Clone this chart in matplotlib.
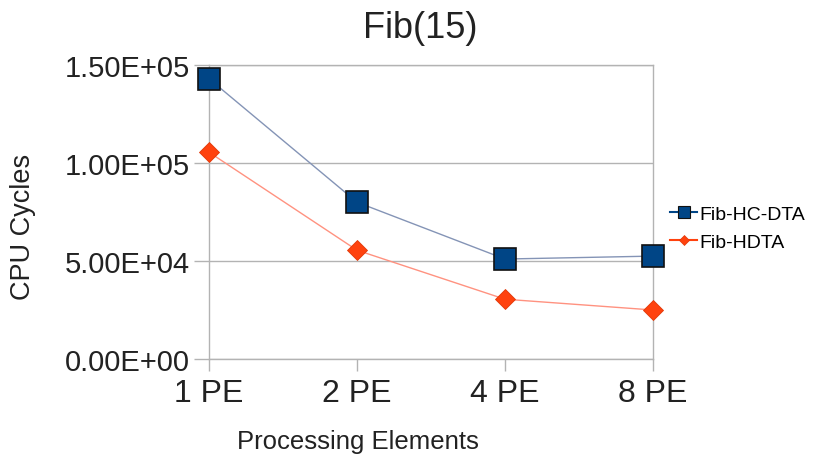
import matplotlib
matplotlib.use("Agg")
import matplotlib.pyplot as plt

plt.rcParams['font.family'] = ['Liberation Sans', 'DejaVu Sans']

categories = ["1 PE", "2 PE", "4 PE", "8 PE"]
hc_dta = [1.43e5, 8.0e4, 5.1e4, 5.25e4]
hdta = [1.055e5, 5.55e4, 3.05e4, 2.5e4]
yticks = [0, 5e4, 1e5, 1.5e5]
ytick_labels = ["0.00E+00", "5.00E+04", "1.00E+05", "1.50E+05"]

W, H = 816, 460
fig = plt.figure(figsize=(W/100, H/100), dpi=100)
ax = fig.add_axes([209/W, 1-360/H, (653-209)/W, (360-66)/H])

x = list(range(len(categories)))
ax.plot(x, hc_dta, color="#8494b6", lw=1.0, marker="s", ms=16,
        mfc="#004586", mec="#111111", mew=1.2, label="Fib-HC-DTA", zorder=4, clip_on=False)
ax.plot(x, hdta, color="#ff9280", lw=1.0, marker="D", ms=10.5,
        mfc="#ff420e", mec="#e03808", mew=0.6, label="Fib-HDTA", zorder=3, clip_on=False)

ax.set_xlim(0, 3)
ax.set_ylim(0, 1.5e5)
ax.set_yticks(yticks)
ax.set_yticklabels(ytick_labels, fontsize=21, color="#222222")
ax.set_xticks(x)
ax.set_xticklabels(categories, fontsize=23, color="#222222")
ax.yaxis.grid(True, color="#b3b3b3", lw=1)
ax.set_axisbelow(True)
for s in ax.spines.values():
    s.set_color("#b3b3b3")
    s.set_linewidth(1)
ax.tick_params(axis="y", color="#b3b3b3", length=11, width=1, pad=3)
ax.tick_params(axis="x", color="#b3b3b3", length=8.6, width=1, pad=5)

ax.set_title("Fib(15)", fontsize=26, color="#222222", pad=20,
             x=(420-209)/444)
ax.set_ylabel("CPU Cycles", fontsize=19.5, color="#222222")
ax.yaxis.set_label_coords((36-209)/444, (360-227)/294)
ax.set_xlabel("Processing Elements", fontsize=18.5, color="#222222")
ax.xaxis.set_label_coords((358-209)/444, (360-430)/294)

legend_lines = [
    plt.Line2D([], [], color="#004586", lw=1.5, marker="s", ms=8,
               mfc="#004586", mec="#111111", mew=0.8),
    plt.Line2D([], [], color="#ff420e", lw=1.5, marker="D", ms=5.5,
               mfc="#ff420e", mec="#e03808", mew=0.5),
]
fig.legend(handles=legend_lines, labels=["Fib-HC-DTA", "Fib-HDTA"], loc="upper left",
           bbox_to_anchor=(670/W, 1-206/H), frameon=False,
           fontsize=14, handlelength=1.4, handletextpad=0.1, borderpad=0,
           borderaxespad=0, labelspacing=0.55)

fig.savefig("out.png", dpi=100)
